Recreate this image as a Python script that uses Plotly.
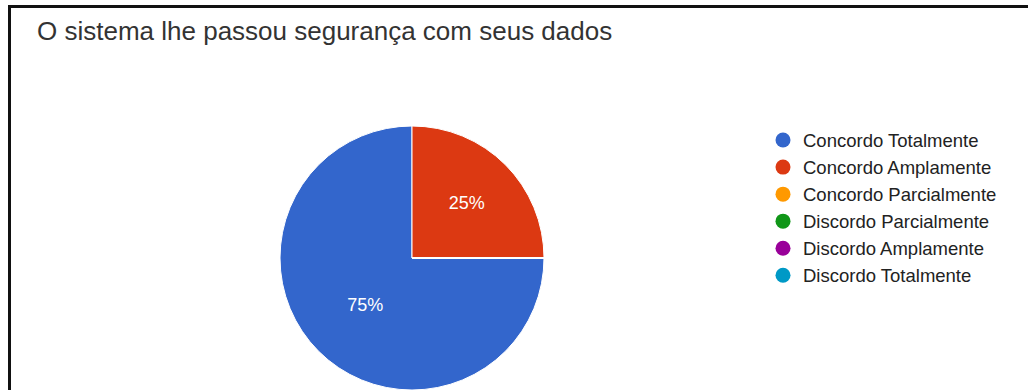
import plotly.graph_objects as go

W, H = 1028, 390

title = "O sistema lhe passou segurança com seus dados"
categories = [
    "Concordo Totalmente",
    "Concordo Amplamente",
    "Concordo Parcialmente",
    "Discordo Parcialmente",
    "Discordo Amplamente",
    "Discordo Totalmente",
]
values = [75, 25, 0, 0, 0, 0]
colors = ["#3366cc", "#dc3912", "#ff9900", "#109618", "#990099", "#0099c6"]

FONT = "Arial, Liberation Sans, sans-serif"


def px_x(v):
    return v / W


def px_y(v):
    return 1 - v / H


fig = go.Figure()

# pie: centre (412, 258), radius 132 px
cx, cy, r = 412, 258, 132
fig.add_trace(go.Pie(
    labels=categories,
    values=values,
    marker=dict(colors=colors, line=dict(color="white", width=1)),
    sort=False,
    direction="clockwise",
    rotation=90,
    texttemplate="%{percent:.0%}",
    textposition="inside",
    insidetextorientation="horizontal",
    textfont=dict(family=FONT, size=18, color="white"),
    showlegend=False,
    hoverinfo="label+percent",
    domain=dict(x=[px_x(cx - r), px_x(cx + r)], y=[px_y(cy + r), px_y(cy - r)]),
))

# legend entries with round markers
for name, col in zip(categories, colors):
    fig.add_trace(go.Scatter(
        x=[None], y=[None], mode="markers", name=name,
        marker=dict(symbol="circle", size=15, color=col),
        legendgroup=name,
    ))

fig.update_layout(
    width=W, height=H,
    margin=dict(l=0, r=0, t=0, b=0),
    paper_bgcolor="white",
    plot_bgcolor="white",
    xaxis=dict(visible=False),
    yaxis=dict(visible=False),
    title=dict(
        text=title, x=px_x(37), xanchor="left", y=px_y(31), yanchor="middle",
        font=dict(family=FONT, size=26, color="#333333"),
    ),
    legend=dict(
        x=px_x(763), y=px_y(121.5), xanchor="left", yanchor="top",
        font=dict(family=FONT, size=18.5, color="#222222"),
        tracegroupgap=0,
        itemclick=False,
    ),
    shapes=[
        dict(type="line", xref="paper", yref="paper",
             x0=px_x(8), x1=1, y0=px_y(6.5), y1=px_y(6.5),
             line=dict(color="#111111", width=3)),
        dict(type="line", xref="paper", yref="paper",
             x0=px_x(9.5), x1=px_x(9.5), y0=px_y(5), y1=0,
             line=dict(color="#111111", width=3)),
    ],
)

fig.write_html("out.html")
